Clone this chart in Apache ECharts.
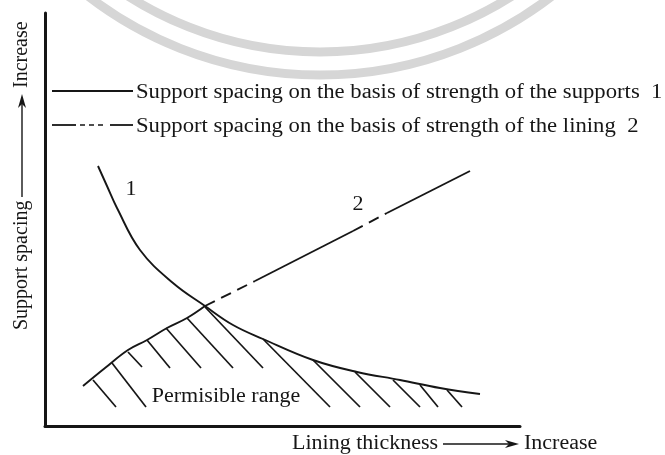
<!DOCTYPE html>
<html>
<head>
<meta charset="utf-8">
<script src="https://cdn.jsdelivr.net/npm/echarts@6/dist/echarts.min.js"></script>
<style>
  html, body { margin: 0; padding: 0; background: #fff; }
  #main { width: 665px; height: 455px; }
</style>
</head>
<body>
<div id="main"></div>
<script>
  // units: x = lining thickness, y = support spacing (arbitrary)
  const curve1 = [[53,260],[62,240],[72,218],[95,176],[128,143],[160,120],[188,101],[218,87],[268,66],[312,54],[355,46],[395,38],[435,32]];
  const curve2Low = [[38,40],[60,58],[83,76],[102,86],[122,98],[142,108],[160,120]];
  const curve2Dash1 = [[160,120],[210,145]];
  const curve2Solid1 = [[210,145],[308,195]];
  const curve2Dash2 = [[308,195],[342,213]];
  const curve2Solid2 = [[342,213],[425,255]];
  // hatching of the permissible range: start on the boundary, end lower down
  const hatchStart = [[48,46],[67,63],[83,74],[102,86],[121,98],[142,108],[160,119],[218,87],[268,66],[310,54],[348,46],[375,41],[402,36]];
  const hatchEnd = [[71,19],[101,19],[97,59],[125,58],[156,58],[188,58],[218,58],[285,19],[315,19],[345,19],[375,19],[393,19],[417,19]];

  const legendNames = ['Support spacing on the basis of strength of the supports  1',
                       'Support spacing on the basis of strength of the lining  2'];

  const ink = '#161616';
  const serif = '20px "Liberation Serif", "DejaVu Serif", serif';

  let chart = echarts.init(document.getElementById('main'));

  let hatchData = hatchStart.map((s, i) => ({ coords: [s, hatchEnd[i]] }));

  function seg(data, dashed, smooth) {
    return {
      type: 'line',
      data: data,
      smooth: smooth ? 0.4 : false,
      symbol: 'none',
      silent: true,
      lineStyle: { color: ink, width: 1.9, type: dashed ? [11, 7] : 'solid' }
    };
  }

  // old book type is set wide, stretch the text a little
  function txt(x, y, text, opts, align) {
    return Object.assign({
      type: 'text', x: x, y: y, scaleX: 1.1,
      style: { text: text, font: serif, fill: ink, textAlign: align || 'left', textVerticalAlign: 'middle' }
    }, opts || {});
  }

  let option = {
    backgroundColor: '#fff',
    animation: false,
    grid: { left: 45, top: 13, width: 475, height: 413 },
    xAxis: {
      type: 'value', min: 0, max: 475,
      axisLine: { show: true, onZero: false, lineStyle: { color: ink, width: 3 } },
      axisTick: { show: false }, axisLabel: { show: false }, splitLine: { show: false }
    },
    yAxis: {
      type: 'value', min: 0, max: 413,
      axisLine: { show: true, onZero: false, lineStyle: { color: ink, width: 3 } },
      axisTick: { show: false }, axisLabel: { show: false }, splitLine: { show: false }
    },
    series: [
      seg(curve1, false, true),
      seg(curve2Low, false, true),
      seg(curve2Dash1, true),
      seg(curve2Solid1, false),
      seg(curve2Dash2, true),
      seg(curve2Solid2, false),
      {
        type: 'lines',
        coordinateSystem: 'cartesian2d',
        silent: true,
        lineStyle: { color: ink, width: 1.7, opacity: 1 },
        data: hatchData
      }
    ],
    graphic: [
      // watermark rings
      { type: 'circle', silent: true, z: -1, shape: { cx: 320, cy: -305, r: 380 },
        style: { fill: 'none', stroke: '#d6d6d6', lineWidth: 9 } },
      { type: 'circle', silent: true, z: -1, shape: { cx: 320, cy: -305, r: 357 },
        style: { fill: 'none', stroke: '#d6d6d6', lineWidth: 9 } },
      // legend
      { type: 'line', shape: { x1: 52, y1: 91, x2: 133, y2: 91 }, style: { stroke: ink, lineWidth: 1.8 } },
      txt(136, 93, legendNames[0], { scaleX: 1.135 }),
      { type: 'line', shape: { x1: 52, y1: 125, x2: 76, y2: 125 }, style: { stroke: ink, lineWidth: 1.8 } },
      { type: 'line', shape: { x1: 80, y1: 125, x2: 106, y2: 125 }, style: { stroke: ink, lineWidth: 1.4, lineDash: [5, 4] } },
      { type: 'line', shape: { x1: 110, y1: 125, x2: 133, y2: 125 }, style: { stroke: ink, lineWidth: 1.8 } },
      txt(136, 127, legendNames[1], { scaleX: 1.135 }),
      // curve numbers and region label
      txt(131, 190, '1', null, 'center'),
      txt(358, 205, '2', null, 'center'),
      txt(226, 397, 'Permisible range', null, 'center'),
      // y axis name with arrow
      txt(22, 330, 'Support spacing', { rotation: Math.PI / 2, scaleX: 1 }),
      { type: 'line', shape: { x1: 22, y1: 197, x2: 22, y2: 100 }, style: { stroke: ink, lineWidth: 1.4 } },
      { type: 'polygon', shape: { points: [[22, 94], [18, 108], [22, 104], [26, 108]] }, style: { fill: ink } },
      txt(22, 88, 'Increase', { rotation: Math.PI / 2, scaleX: 1 }),
      // x axis name with arrow
      txt(292, 444, 'Lining thickness'),
      { type: 'line', shape: { x1: 443, y1: 444, x2: 512, y2: 444 }, style: { stroke: ink, lineWidth: 1.4 } },
      { type: 'polygon', shape: { points: [[519, 444], [505, 440], [509, 444], [505, 448]] }, style: { fill: ink } },
      txt(524, 444, 'Increase')
    ]
  };
  chart.setOption(option);
</script>
</body>
</html>
